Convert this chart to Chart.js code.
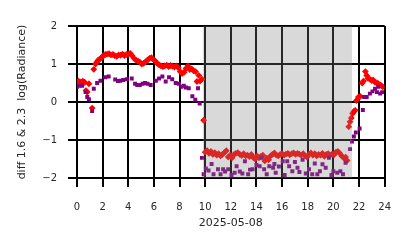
<!DOCTYPE html>
<html>
<head>
<meta charset="utf-8">
<script src="https://cdn.jsdelivr.net/npm/chart.js@4/dist/chart.umd.min.js"></script>
<style>
  html, body { margin: 0; padding: 0; background: #fff; }
  #wrap { width: 414px; height: 248px; }
</style>
</head>
<body>
<div id="wrap"><canvas id="chart" width="414" height="248"></canvas></div>
<script>
'use strict';

// hours of day 2025-05-08
var redHours = [0.0, 0.1, 0.2, 0.3, 0.45, 0.6, 0.7, 0.8, 0.93, 1.18, 1.31, 1.45, 1.55, 1.65, 1.75, 1.85, 1.95, 2.05, 2.2, 2.35,
  2.5, 2.65, 2.8, 2.95, 3.1, 3.25, 3.4, 3.55, 3.7, 3.85, 4.0, 4.15, 4.3, 4.45, 4.6, 4.75, 4.9, 5.05, 5.2, 5.35,
  5.5, 5.65, 5.8, 5.95, 6.1, 6.25, 6.4, 6.55, 6.7, 6.85, 7.0, 7.15, 7.3, 7.45, 7.6, 7.75, 7.9, 8.05, 8.2, 8.35,
  8.5, 8.65, 8.8, 8.95, 9.1, 9.25, 9.36, 9.5, 9.6, 9.75, 9.88,
  10.0, 10.15, 10.3, 10.45, 10.6, 10.75, 10.9, 11.05, 11.2, 11.35, 11.5, 11.65, 11.8, 11.95, 12.1, 12.25, 12.4, 12.55, 12.7, 12.85,
  13.0, 13.15, 13.3, 13.45, 13.6, 13.75, 13.9, 14.05, 14.2, 14.35, 14.5, 14.65, 14.8, 14.95, 15.1, 15.25, 15.4, 15.55, 15.7, 15.85,
  16.0, 16.15, 16.3, 16.45, 16.6, 16.75, 16.9, 17.05, 17.2, 17.35, 17.5, 17.65, 17.8, 17.95, 18.1, 18.25, 18.4, 18.55, 18.7, 18.85,
  19.0, 19.15, 19.3, 19.45, 19.6, 19.75, 19.9, 20.05, 20.2, 20.35, 20.5, 20.65, 20.8, 20.95, 21.07,
  21.2, 21.3, 21.4, 21.5, 21.6, 21.7, 21.8, 21.95, 22.1, 22.25, 22.35, 22.5, 22.6, 22.7, 22.85, 23.0, 23.1, 23.25, 23.4, 23.5,
  23.65, 23.75, 23.85];
var redValues = [0.50, 0.55, 0.53, 0.52, 0.55, 0.52, 0.30, 0.26, 0.48, -0.16, 0.86, 1.00, 1.05, 1.10, 1.12, 1.15, 1.18, 1.22, 1.25, 1.26,
  1.27, 1.24, 1.25, 1.22, 1.20, 1.24, 1.23, 1.26, 1.22, 1.25, 1.26, 1.28, 1.22, 1.15, 1.10, 1.08, 1.05, 1.00, 1.02, 1.06,
  1.10, 1.15, 1.17, 1.12, 1.08, 1.02, 0.98, 0.95, 0.93, 0.95, 0.97, 0.93, 0.96, 0.94, 0.92, 0.95, 0.90, 0.80, 0.75, 0.78,
  0.88, 0.95, 0.85, 0.87, 0.82, 0.80, 0.54, 0.70, 0.55, 0.60, -0.48,
  -1.32, -1.28, -1.35, -1.30, -1.38, -1.33, -1.40, -1.36, -1.42, -1.38, -1.33, -1.28, -1.45, -1.40, -1.47, -1.38, -1.35, -1.33, -1.38, -1.41,
  -1.36, -1.42, -1.40, -1.44, -1.38, -1.46, -1.50, -1.42, -1.47, -1.43, -1.40, -1.55, -1.48, -1.52, -1.42, -1.38, -1.34, -1.40, -1.42, -1.38,
  -1.36, -1.40, -1.37, -1.35, -1.39, -1.36, -1.34, -1.38, -1.35, -1.37, -1.40, -1.36, -1.42, -1.45, -1.38, -1.34, -1.40, -1.36, -1.42, -1.38,
  -1.40, -1.35, -1.43, -1.38, -1.36, -1.40, -1.37, -1.39, -1.32, -1.30, -1.35, -1.42, -1.47, -1.45, -1.54,
  -0.65, -0.52, -0.42, -0.30, -0.25, -0.22, 0.04, 0.13, 0.15, 0.50, 0.55, 0.80, 0.70, 0.62, 0.60, 0.56, 0.58, 0.52, 0.50, 0.48,
  0.45, 0.43, 0.40];

var purpleHours = [0.0, 0.15, 0.4, 0.67, 0.8, 0.93, 1.18, 1.31, 1.57, 1.83, 2.2, 2.47, 2.98, 3.2, 3.37, 3.6, 3.88, 4.27, 4.53, 4.7,
  4.9, 5.12, 5.3, 5.5, 5.75, 6.15, 6.4, 6.66, 6.92, 7.18, 7.43, 7.7, 7.95, 8.15, 8.33, 8.5, 8.72, 9.0, 9.23, 9.44,
  9.57, 9.75, 9.88, 10.05, 10.26, 10.5, 10.65, 11.0, 11.2, 11.4, 11.55, 11.8, 12.05, 12.3, 12.45, 12.7, 12.9, 13.1, 13.35, 13.5,
  13.7, 14.0, 14.25, 14.4, 14.6, 14.8, 15.0, 15.3, 15.4, 15.5, 15.75, 16.05, 16.2, 16.4, 16.55, 16.8, 17.0, 17.2, 17.35, 17.6,
  17.85, 18.1, 18.35, 18.55, 18.75, 18.95, 19.15, 19.4, 19.65, 19.85, 20.0, 20.3, 20.55, 20.75, 20.95,
  21.3, 21.45, 21.6, 21.75, 22.05, 22.3, 22.4, 22.6, 22.85, 23.05, 23.25, 23.4, 23.5, 23.65, 23.8];
var purpleValues = [0.40, 0.43, 0.43, 0.26, 0.13, 0.07, -0.24, 0.35, 0.50, 0.56, 0.65, 0.67, 0.59, 0.55, 0.56, 0.58, 0.60, 0.62, 0.48, 0.45,
  0.45, 0.48, 0.50, 0.48, 0.45, 0.56, 0.62, 0.67, 0.54, 0.65, 0.60, 0.50, 0.48, 0.40, 0.43, 0.38, 0.36, 0.15, 0.06, 0.36,
  -0.04, -1.47, -1.90, -1.75, -1.80, -1.63, -1.90, -1.77, -1.90, -1.77, -1.83, -1.77, -1.92, -1.86, -1.69, -1.83, -1.88, -1.56, -1.90, -1.78,
  -1.77, -1.66, -1.69, -1.47, -1.77, -1.90, -1.69, -1.73, -1.63, -1.86, -1.70, -1.56, -1.92, -1.56, -1.69, -1.82, -1.58, -1.73, -1.84, -1.52,
  -1.88, -1.77, -1.90, -1.62, -1.90, -1.82, -1.64, -1.73, -1.47, -1.92, -1.82, -1.86, -1.82, -1.90, -1.60,
  -1.24, -1.04, -0.91, -0.80, -0.70, -0.21, 0.13, 0.13, 0.22, 0.28, 0.35, 0.26, 0.40, 0.22, 0.26];

var xTicks = [0, 2, 4, 6, 8, 10, 12, 14, 16, 18, 20, 22, 24];
var yTicks = [-2, -1, 0, 1, 2];

// night shading (hours)
var shadeStart = 9.82;
var shadeEnd = 21.45;

var tickLen = 9;

function toPoints(hours, values) {
  var pts = [];
  for (var i = 0; i < hours.length; i++) {
    pts.push({x: hours[i], y: values[i]});
  }
  return pts;
}

var shadePlugin = {
  id: 'shade',
  afterDatasetsDraw: function(chart) {
    var ctx = chart.ctx;
    var xs = chart.scales.x;
    var area = chart.chartArea;
    var x1 = xs.getPixelForValue(shadeStart);
    var x2 = xs.getPixelForValue(shadeEnd);
    ctx.save();
    ctx.fillStyle = 'rgba(128,128,128,0.3)';
    ctx.fillRect(x1, area.top, x2 - x1, area.bottom - area.top);
    ctx.restore();
  }
};

// tick marks sticking out of the frame, like matplotlib
var tickPlugin = {
  id: 'tickMarks',
  afterDraw: function(chart) {
    var ctx = chart.ctx;
    var xs = chart.scales.x;
    var ys = chart.scales.y;
    var area = chart.chartArea;
    ctx.save();
    ctx.strokeStyle = '#000';
    ctx.lineWidth = 2;
    ctx.beginPath();
    xTicks.forEach(function(v) {
      var px = Math.round(xs.getPixelForValue(v));
      ctx.moveTo(px, area.bottom);
      ctx.lineTo(px, area.bottom + tickLen);
    });
    yTicks.forEach(function(v) {
      var py = Math.round(ys.getPixelForValue(v));
      ctx.moveTo(area.left, py);
      ctx.lineTo(area.left - tickLen, py);
    });
    ctx.stroke();
    ctx.restore();
  }
};

var fontFamily = '"DejaVu Sans", sans-serif';

var ctx = document.getElementById('chart').getContext('2d');
var chart = new Chart(ctx, {
  type: 'scatter',
  data: {
    datasets: [{
      label: '2.3',
      data: toPoints(purpleHours, purpleValues),
      pointStyle: 'rect',
      pointRadius: 2.8,
      pointBorderWidth: 0,
      backgroundColor: 'rgb(128,0,128)',
      borderColor: 'rgb(128,0,128)'
    }, {
      label: '1.6',
      data: toPoints(redHours, redValues),
      pointStyle: 'rectRot',
      pointRadius: 3.4,
      pointBorderWidth: 0,
      backgroundColor: 'rgb(255,0,0)',
      borderColor: 'rgb(255,0,0)'
    }]
  },
  options: {
    responsive: false,
    animation: false,
    events: [],
    layout: { padding: { left: 0, right: 26, top: 23, bottom: 0 } },
    plugins: { legend: { display: false }, tooltip: { enabled: false } },
    scales: {
      x: {
        type: 'linear',
        min: 0,
        max: 24,
        afterBuildTicks: function(scale) {
          scale.ticks = xTicks.map(function(v) { return {value: v}; });
        },
        afterFit: function(scale) { scale.height = 70; },
        grid: { color: '#000', lineWidth: 2, drawTicks: false },
        border: { display: false },
        ticks: { color: '#262626', padding: 23, maxRotation: 0, font: { family: fontFamily, size: 10 } },
        title: {
          display: true,
          text: '2025-05-08',
          color: '#262626',
          font: { family: fontFamily, size: 11 },
          padding: { top: 0, bottom: 18 }
        }
      },
      y: {
        min: -2,
        max: 2,
        afterBuildTicks: function(scale) {
          scale.ticks = yTicks.map(function(v) { return {value: v}; });
        },
        afterFit: function(scale) { scale.width = 77; },
        grid: { color: '#000', lineWidth: 2, drawTicks: false },
        border: { display: false },
        ticks: {
          color: '#262626',
          padding: 20,
          font: { family: fontFamily, size: 10 },
          callback: function(v) { return String(v).replace('-', '\u2212'); }
        },
        title: {
          display: true,
          text: 'diff 1.6 & 2.3  log(Radiance)',
          color: '#262626',
          font: { family: fontFamily, size: 11 },
          padding: { top: 16, bottom: 0 }
        }
      }
    }
  },
  plugins: [shadePlugin, tickPlugin]
});
</script>
</body>
</html>
